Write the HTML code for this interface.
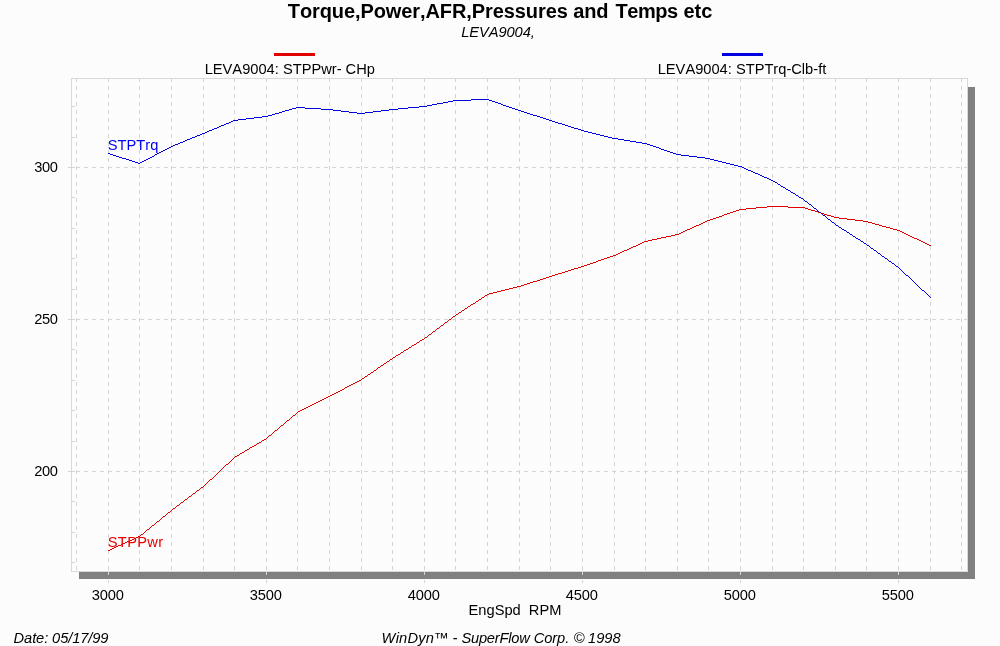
<!DOCTYPE html>
<html><head><meta charset="utf-8"><title>Torque,Power,AFR,Pressures and Temps etc</title>
<style>
html,body{margin:0;padding:0;background:#fcfcfc;}
body{width:1000px;height:646px;overflow:hidden;font-family:"Liberation Sans",sans-serif;}
svg{display:block;font-family:"Liberation Sans",sans-serif;}
text{font-family:"Liberation Sans",sans-serif;font-kerning:none;font-variant-ligatures:none;}
</style></head><body>
<svg width="1000" height="646" viewBox="0 0 1000 646">
<rect x="0" y="0" width="1000" height="646" fill="#fcfcfc"/>

<g shape-rendering="crispEdges">
<rect x="968" y="87" width="7" height="492" fill="#808080"/>
<rect x="79" y="572" width="896" height="7" fill="#808080"/>
<rect x="71.5" y="78.5" width="896" height="493" fill="#fcfcfc" stroke="#d9d9d9" stroke-width="1"/>
<line x1="76.5" y1="78" x2="76.5" y2="571" stroke="#d5d5d5" stroke-width="1" stroke-dasharray="4 4"/>
<line x1="108.5" y1="78" x2="108.5" y2="571" stroke="#d5d5d5" stroke-width="1" stroke-dasharray="4 4"/>
<line x1="139.5" y1="78" x2="139.5" y2="571" stroke="#d5d5d5" stroke-width="1" stroke-dasharray="4 4"/>
<line x1="171.5" y1="78" x2="171.5" y2="571" stroke="#d5d5d5" stroke-width="1" stroke-dasharray="4 4"/>
<line x1="203.5" y1="78" x2="203.5" y2="571" stroke="#d5d5d5" stroke-width="1" stroke-dasharray="4 4"/>
<line x1="234.5" y1="78" x2="234.5" y2="571" stroke="#d5d5d5" stroke-width="1" stroke-dasharray="4 4"/>
<line x1="266.5" y1="78" x2="266.5" y2="571" stroke="#d5d5d5" stroke-width="1" stroke-dasharray="4 4"/>
<line x1="297.5" y1="78" x2="297.5" y2="571" stroke="#d5d5d5" stroke-width="1" stroke-dasharray="4 4"/>
<line x1="329.5" y1="78" x2="329.5" y2="571" stroke="#d5d5d5" stroke-width="1" stroke-dasharray="4 4"/>
<line x1="361.5" y1="78" x2="361.5" y2="571" stroke="#d5d5d5" stroke-width="1" stroke-dasharray="4 4"/>
<line x1="392.5" y1="78" x2="392.5" y2="571" stroke="#d5d5d5" stroke-width="1" stroke-dasharray="4 4"/>
<line x1="424.5" y1="78" x2="424.5" y2="571" stroke="#d5d5d5" stroke-width="1" stroke-dasharray="4 4"/>
<line x1="455.5" y1="78" x2="455.5" y2="571" stroke="#d5d5d5" stroke-width="1" stroke-dasharray="4 4"/>
<line x1="487.5" y1="78" x2="487.5" y2="571" stroke="#d5d5d5" stroke-width="1" stroke-dasharray="4 4"/>
<line x1="519.5" y1="78" x2="519.5" y2="571" stroke="#d5d5d5" stroke-width="1" stroke-dasharray="4 4"/>
<line x1="550.5" y1="78" x2="550.5" y2="571" stroke="#d5d5d5" stroke-width="1" stroke-dasharray="4 4"/>
<line x1="582.5" y1="78" x2="582.5" y2="571" stroke="#d5d5d5" stroke-width="1" stroke-dasharray="4 4"/>
<line x1="614.5" y1="78" x2="614.5" y2="571" stroke="#d5d5d5" stroke-width="1" stroke-dasharray="4 4"/>
<line x1="645.5" y1="78" x2="645.5" y2="571" stroke="#d5d5d5" stroke-width="1" stroke-dasharray="4 4"/>
<line x1="677.5" y1="78" x2="677.5" y2="571" stroke="#d5d5d5" stroke-width="1" stroke-dasharray="4 4"/>
<line x1="708.5" y1="78" x2="708.5" y2="571" stroke="#d5d5d5" stroke-width="1" stroke-dasharray="4 4"/>
<line x1="740.5" y1="78" x2="740.5" y2="571" stroke="#d5d5d5" stroke-width="1" stroke-dasharray="4 4"/>
<line x1="772.5" y1="78" x2="772.5" y2="571" stroke="#d5d5d5" stroke-width="1" stroke-dasharray="4 4"/>
<line x1="803.5" y1="78" x2="803.5" y2="571" stroke="#d5d5d5" stroke-width="1" stroke-dasharray="4 4"/>
<line x1="835.5" y1="78" x2="835.5" y2="571" stroke="#d5d5d5" stroke-width="1" stroke-dasharray="4 4"/>
<line x1="866.5" y1="78" x2="866.5" y2="571" stroke="#d5d5d5" stroke-width="1" stroke-dasharray="4 4"/>
<line x1="898.5" y1="78" x2="898.5" y2="571" stroke="#d5d5d5" stroke-width="1" stroke-dasharray="4 4"/>
<line x1="930.5" y1="78" x2="930.5" y2="571" stroke="#d5d5d5" stroke-width="1" stroke-dasharray="4 4"/>
<line x1="961.5" y1="78" x2="961.5" y2="571" stroke="#d5d5d5" stroke-width="1" stroke-dasharray="4 4"/>
<line x1="108.5" y1="572" x2="108.5" y2="575" stroke="#d5d5d5" stroke-width="1"/>
<line x1="108.5" y1="580" x2="108.5" y2="583" stroke="#d5d5d5" stroke-width="1"/>
<line x1="266.5" y1="572" x2="266.5" y2="575" stroke="#d5d5d5" stroke-width="1"/>
<line x1="266.5" y1="580" x2="266.5" y2="583" stroke="#d5d5d5" stroke-width="1"/>
<line x1="424.5" y1="572" x2="424.5" y2="575" stroke="#d5d5d5" stroke-width="1"/>
<line x1="424.5" y1="580" x2="424.5" y2="583" stroke="#d5d5d5" stroke-width="1"/>
<line x1="582.5" y1="572" x2="582.5" y2="575" stroke="#d5d5d5" stroke-width="1"/>
<line x1="582.5" y1="580" x2="582.5" y2="583" stroke="#d5d5d5" stroke-width="1"/>
<line x1="740.5" y1="572" x2="740.5" y2="575" stroke="#d5d5d5" stroke-width="1"/>
<line x1="740.5" y1="580" x2="740.5" y2="583" stroke="#d5d5d5" stroke-width="1"/>
<line x1="898.5" y1="572" x2="898.5" y2="575" stroke="#d5d5d5" stroke-width="1"/>
<line x1="898.5" y1="580" x2="898.5" y2="583" stroke="#d5d5d5" stroke-width="1"/>
<line x1="68" y1="471.5" x2="75" y2="471.5" stroke="#d5d5d5" stroke-width="1"/>
<line x1="76" y1="471.5" x2="967" y2="471.5" stroke="#d5d5d5" stroke-width="1" stroke-dasharray="4 4"/>
<line x1="68" y1="319.5" x2="75" y2="319.5" stroke="#d5d5d5" stroke-width="1"/>
<line x1="76" y1="319.5" x2="967" y2="319.5" stroke="#d5d5d5" stroke-width="1" stroke-dasharray="4 4"/>
<line x1="68" y1="167.5" x2="75" y2="167.5" stroke="#d5d5d5" stroke-width="1"/>
<line x1="76" y1="167.5" x2="967" y2="167.5" stroke="#d5d5d5" stroke-width="1" stroke-dasharray="4 4"/>
<line x1="72" y1="562.5" x2="75" y2="562.5" stroke="#d5d5d5" stroke-width="1"/>
<line x1="72" y1="532.5" x2="75" y2="532.5" stroke="#d5d5d5" stroke-width="1"/>
<line x1="72" y1="501.5" x2="75" y2="501.5" stroke="#d5d5d5" stroke-width="1"/>
<line x1="72" y1="441.5" x2="75" y2="441.5" stroke="#d5d5d5" stroke-width="1"/>
<line x1="72" y1="410.5" x2="75" y2="410.5" stroke="#d5d5d5" stroke-width="1"/>
<line x1="72" y1="380.5" x2="75" y2="380.5" stroke="#d5d5d5" stroke-width="1"/>
<line x1="72" y1="349.5" x2="75" y2="349.5" stroke="#d5d5d5" stroke-width="1"/>
<line x1="72" y1="289.5" x2="75" y2="289.5" stroke="#d5d5d5" stroke-width="1"/>
<line x1="72" y1="258.5" x2="75" y2="258.5" stroke="#d5d5d5" stroke-width="1"/>
<line x1="72" y1="228.5" x2="75" y2="228.5" stroke="#d5d5d5" stroke-width="1"/>
<line x1="72" y1="197.5" x2="75" y2="197.5" stroke="#d5d5d5" stroke-width="1"/>
<line x1="72" y1="137.5" x2="75" y2="137.5" stroke="#d5d5d5" stroke-width="1"/>
<line x1="72" y1="106.5" x2="75" y2="106.5" stroke="#d5d5d5" stroke-width="1"/>
<rect x="274" y="53" width="41" height="3" fill="#e00000"/>
<rect x="722" y="53" width="41" height="3" fill="#0000e0"/>
</g>
<path d="M767 206h21v1h-21zM756 207h11v1h-11zM788 207h17v1h-17zM746 208h10v1h-10zM805 208h3v1h-3zM739 209h7v1h-7zM808 209h3v1h-3zM736 210h3v1h-3zM811 210h4v1h-4zM733 211h3v1h-3zM815 211h3v1h-3zM730 212h3v1h-3zM818 212h3v1h-3zM727 213h3v1h-3zM821 213h3v1h-3zM724 214h3v1h-3zM824 214h3v1h-3zM722 215h2v1h-2zM827 215h4v1h-4zM719 216h3v1h-3zM831 216h3v1h-3zM716 217h3v1h-3zM834 217h5v1h-5zM713 218h3v1h-3zM839 218h8v1h-8zM710 219h3v1h-3zM847 219h8v1h-8zM707 220h3v1h-3zM855 220h8v1h-8zM705 221h2v1h-2zM863 221h5v1h-5zM703 222h2v1h-2zM868 222h4v1h-4zM701 223h2v1h-2zM872 223h3v1h-3zM699 224h2v1h-2zM875 224h4v1h-4zM696 225h3v1h-3zM879 225h3v1h-3zM694 226h2v1h-2zM882 226h4v1h-4zM692 227h2v1h-2zM886 227h4v1h-4zM690 228h2v1h-2zM890 228h3v1h-3zM687 229h3v1h-3zM893 229h4v1h-4zM685 230h2v1h-2zM897 230h3v1h-3zM683 231h2v1h-2zM900 231h2v1h-2zM681 232h2v1h-2zM902 232h2v1h-2zM679 233h2v1h-2zM904 233h2v1h-2zM675 234h4v1h-4zM906 234h2v1h-2zM671 235h4v1h-4zM908 235h2v1h-2zM666 236h5v1h-5zM910 236h2v1h-2zM661 237h5v1h-5zM912 237h2v1h-2zM657 238h4v1h-4zM914 238h3v1h-3zM652 239h5v1h-5zM917 239h2v1h-2zM648 240h4v1h-4zM919 240h2v1h-2zM644 241h4v1h-4zM921 241h2v1h-2zM642 242h2v1h-2zM923 242h2v1h-2zM640 243h2v1h-2zM925 243h2v1h-2zM638 244h2v1h-2zM927 244h2v1h-2zM636 245h2v1h-2zM929 245h2v1h-2zM633 246h3v1h-3zM631 247h2v1h-2zM629 248h2v1h-2zM627 249h2v1h-2zM624 250h3v1h-3zM622 251h2v1h-2zM620 252h2v1h-2zM618 253h2v1h-2zM616 254h2v1h-2zM613 255h3v1h-3zM610 256h3v1h-3zM607 257h3v1h-3zM604 258h3v1h-3zM601 259h3v1h-3zM598 260h3v1h-3zM596 261h2v1h-2zM593 262h3v1h-3zM590 263h3v1h-3zM587 264h3v1h-3zM584 265h3v1h-3zM581 266h3v1h-3zM578 267h3v1h-3zM574 268h4v1h-4zM571 269h3v1h-3zM568 270h3v1h-3zM565 271h3v1h-3zM562 272h3v1h-3zM558 273h4v1h-4zM555 274h3v1h-3zM552 275h3v1h-3zM549 276h3v1h-3zM546 277h3v1h-3zM543 278h3v1h-3zM540 279h3v1h-3zM537 280h3v1h-3zM533 281h4v1h-4zM530 282h3v1h-3zM527 283h3v1h-3zM524 284h3v1h-3zM521 285h3v1h-3zM517 286h4v1h-4zM513 287h4v1h-4zM509 288h4v1h-4zM505 289h4v1h-4zM501 290h4v1h-4zM497 291h4v1h-4zM493 292h4v1h-4zM489 293h4v1h-4zM487 294h2v1h-2zM485 295h2v1h-2zM484 296h1v1h-1zM482 297h2v1h-2zM481 298h1v1h-1zM479 299h2v1h-2zM478 300h1v1h-1zM476 301h2v1h-2zM475 302h1v1h-1zM473 303h2v1h-2zM471 304h2v1h-2zM470 305h1v1h-1zM468 306h2v1h-2zM467 307h1v1h-1zM465 308h2v1h-2zM464 309h1v1h-1zM462 310h2v1h-2zM461 311h1v1h-1zM459 312h2v1h-2zM458 313h1v1h-1zM456 314h2v1h-2zM455 315h1v1h-1zM453 316h2v1h-2zM452 317h1v1h-1zM451 318h1v1h-1zM449 319h2v1h-2zM448 320h1v1h-1zM447 321h1v1h-1zM445 322h2v1h-2zM444 323h1v1h-1zM443 324h1v1h-1zM441 325h2v1h-2zM440 326h1v1h-1zM439 327h1v1h-1zM437 328h2v1h-2zM436 329h1v1h-1zM435 330h1v1h-1zM433 331h2v1h-2zM432 332h1v1h-1zM431 333h1v1h-1zM429 334h2v1h-2zM428 335h1v1h-1zM427 336h1v1h-1zM425 337h2v1h-2zM424 338h1v1h-1zM422 339h2v1h-2zM420 340h2v1h-2zM419 341h1v1h-1zM417 342h2v1h-2zM416 343h1v1h-1zM414 344h2v1h-2zM412 345h2v1h-2zM411 346h1v1h-1zM409 347h2v1h-2zM408 348h1v1h-1zM406 349h2v1h-2zM404 350h2v1h-2zM403 351h1v1h-1zM401 352h2v1h-2zM400 353h1v1h-1zM398 354h2v1h-2zM396 355h2v1h-2zM395 356h1v1h-1zM393 357h2v1h-2zM392 358h1v1h-1zM390 359h2v1h-2zM389 360h1v1h-1zM387 361h2v1h-2zM386 362h1v1h-1zM384 363h2v1h-2zM383 364h1v1h-1zM381 365h2v1h-2zM380 366h1v1h-1zM378 367h2v1h-2zM377 368h1v1h-1zM376 369h1v1h-1zM374 370h2v1h-2zM373 371h1v1h-1zM371 372h2v1h-2zM370 373h1v1h-1zM368 374h2v1h-2zM367 375h1v1h-1zM365 376h2v1h-2zM364 377h1v1h-1zM362 378h2v1h-2zM361 379h1v1h-1zM359 380h2v1h-2zM357 381h2v1h-2zM355 382h2v1h-2zM353 383h2v1h-2zM351 384h2v1h-2zM349 385h2v1h-2zM347 386h2v1h-2zM345 387h2v1h-2zM344 388h1v1h-1zM342 389h2v1h-2zM340 390h2v1h-2zM338 391h2v1h-2zM336 392h2v1h-2zM334 393h2v1h-2zM332 394h2v1h-2zM330 395h2v1h-2zM328 396h2v1h-2zM326 397h2v1h-2zM324 398h2v1h-2zM322 399h2v1h-2zM320 400h2v1h-2zM318 401h2v1h-2zM316 402h2v1h-2zM314 403h2v1h-2zM312 404h2v1h-2zM310 405h2v1h-2zM308 406h2v1h-2zM306 407h2v1h-2zM304 408h2v1h-2zM302 409h2v1h-2zM300 410h2v1h-2zM298 411h2v1h-2zM297 412h1v1h-1zM296 413h1v1h-1zM295 414h1v1h-1zM293 415h2v1h-2zM292 416h1v1h-1zM291 417h1v1h-1zM290 418h1v1h-1zM289 419h1v1h-1zM287 420h2v1h-2zM286 421h1v1h-1zM285 422h1v1h-1zM284 423h1v1h-1zM283 424h1v1h-1zM281 425h2v1h-2zM280 426h1v1h-1zM279 427h1v1h-1zM278 428h1v1h-1zM277 429h1v1h-1zM275 430h2v1h-2zM274 431h1v1h-1zM273 432h1v1h-1zM272 433h1v1h-1zM271 434h1v1h-1zM269 435h2v1h-2zM268 436h1v1h-1zM267 437h1v1h-1zM266 438h1v1h-1zM264 439h2v1h-2zM262 440h2v1h-2zM261 441h1v1h-1zM259 442h2v1h-2zM257 443h2v1h-2zM256 444h1v1h-1zM254 445h2v1h-2zM252 446h2v1h-2zM250 447h2v1h-2zM249 448h1v1h-1zM247 449h2v1h-2zM245 450h2v1h-2zM244 451h1v1h-1zM242 452h2v1h-2zM240 453h2v1h-2zM239 454h1v1h-1zM237 455h2v1h-2zM235 456h2v1h-2zM234 457h1v1h-1zM233 458h1v1h-1zM232 459h1v1h-1zM231 460h1v1h-1zM230 461h1v1h-1zM229 462h1v1h-1zM228 463h1v1h-1zM226 464h2v1h-2zM225 465h1v1h-1zM224 466h1v1h-1zM223 467h1v1h-1zM222 468h1v1h-1zM221 469h1v1h-1zM220 470h1v1h-1zM219 471h1v1h-1zM218 472h1v1h-1zM217 473h1v1h-1zM216 474h1v1h-1zM215 475h1v1h-1zM214 476h1v1h-1zM213 477h1v1h-1zM212 478h1v1h-1zM210 479h2v1h-2zM209 480h1v1h-1zM208 481h1v1h-1zM207 482h1v1h-1zM206 483h1v1h-1zM205 484h1v1h-1zM204 485h1v1h-1zM203 486h1v1h-1zM201 487h2v1h-2zM200 488h1v1h-1zM199 489h1v1h-1zM197 490h2v1h-2zM196 491h1v1h-1zM195 492h1v1h-1zM193 493h2v1h-2zM192 494h1v1h-1zM191 495h1v1h-1zM189 496h2v1h-2zM188 497h1v1h-1zM187 498h1v1h-1zM185 499h2v1h-2zM184 500h1v1h-1zM183 501h1v1h-1zM181 502h2v1h-2zM180 503h1v1h-1zM179 504h1v1h-1zM177 505h2v1h-2zM176 506h1v1h-1zM175 507h1v1h-1zM173 508h2v1h-2zM172 509h1v1h-1zM171 510h1v1h-1zM170 511h1v1h-1zM168 512h2v1h-2zM167 513h1v1h-1zM166 514h1v1h-1zM165 515h1v1h-1zM163 516h2v1h-2zM162 517h1v1h-1zM161 518h1v1h-1zM160 519h1v1h-1zM159 520h1v1h-1zM157 521h2v1h-2zM156 522h1v1h-1zM155 523h1v1h-1zM154 524h1v1h-1zM152 525h2v1h-2zM151 526h1v1h-1zM150 527h1v1h-1zM149 528h1v1h-1zM147 529h2v1h-2zM146 530h1v1h-1zM145 531h1v1h-1zM144 532h1v1h-1zM143 533h1v1h-1zM141 534h2v1h-2zM140 535h1v1h-1zM138 536h2v1h-2zM136 537h2v1h-2zM134 538h2v1h-2zM132 539h2v1h-2zM130 540h2v1h-2zM127 541h3v1h-3zM125 542h2v1h-2zM123 543h2v1h-2zM121 544h2v1h-2zM118 545h3v1h-3zM116 546h2v1h-2zM114 547h2v1h-2zM112 548h2v1h-2zM110 549h2v1h-2zM108 550h2v1h-2z" fill="#e00000" shape-rendering="crispEdges"/>
<path d="M471 99h18v1h-18zM453 100h18v1h-18zM489 100h3v1h-3zM448 101h5v1h-5zM492 101h3v1h-3zM443 102h5v1h-5zM495 102h3v1h-3zM437 103h6v1h-6zM498 103h3v1h-3zM432 104h5v1h-5zM501 104h2v1h-2zM427 105h5v1h-5zM503 105h3v1h-3zM419 106h8v1h-8zM506 106h3v1h-3zM296 107h9v1h-9zM408 107h11v1h-11zM509 107h3v1h-3zM292 108h4v1h-4zM305 108h16v1h-16zM398 108h10v1h-10zM512 108h3v1h-3zM289 109h3v1h-3zM321 109h12v1h-12zM389 109h9v1h-9zM515 109h3v1h-3zM285 110h4v1h-4zM333 110h8v1h-8zM381 110h8v1h-8zM518 110h3v1h-3zM282 111h3v1h-3zM341 111h8v1h-8zM373 111h8v1h-8zM521 111h3v1h-3zM279 112h3v1h-3zM349 112h8v1h-8zM365 112h8v1h-8zM524 112h3v1h-3zM275 113h4v1h-4zM357 113h8v1h-8zM527 113h3v1h-3zM272 114h3v1h-3zM530 114h3v1h-3zM268 115h4v1h-4zM533 115h4v1h-4zM262 116h6v1h-6zM537 116h3v1h-3zM254 117h8v1h-8zM540 117h3v1h-3zM246 118h8v1h-8zM543 118h3v1h-3zM238 119h8v1h-8zM546 119h3v1h-3zM233 120h5v1h-5zM549 120h3v1h-3zM231 121h2v1h-2zM552 121h3v1h-3zM229 122h2v1h-2zM555 122h3v1h-3zM226 123h3v1h-3zM558 123h4v1h-4zM224 124h2v1h-2zM562 124h3v1h-3zM221 125h3v1h-3zM565 125h3v1h-3zM219 126h2v1h-2zM568 126h3v1h-3zM217 127h2v1h-2zM571 127h3v1h-3zM214 128h3v1h-3zM574 128h4v1h-4zM212 129h2v1h-2zM578 129h3v1h-3zM209 130h3v1h-3zM581 130h3v1h-3zM207 131h2v1h-2zM584 131h4v1h-4zM205 132h2v1h-2zM588 132h4v1h-4zM202 133h3v1h-3zM592 133h4v1h-4zM200 134h2v1h-2zM596 134h4v1h-4zM197 135h3v1h-3zM600 135h4v1h-4zM195 136h2v1h-2zM604 136h4v1h-4zM192 137h3v1h-3zM608 137h4v1h-4zM190 138h2v1h-2zM612 138h6v1h-6zM187 139h3v1h-3zM618 139h6v1h-6zM185 140h2v1h-2zM624 140h6v1h-6zM183 141h2v1h-2zM630 141h6v1h-6zM180 142h3v1h-3zM636 142h6v1h-6zM178 143h2v1h-2zM642 143h5v1h-5zM175 144h3v1h-3zM647 144h3v1h-3zM173 145h2v1h-2zM650 145h3v1h-3zM171 146h2v1h-2zM653 146h3v1h-3zM169 147h2v1h-2zM656 147h3v1h-3zM167 148h2v1h-2zM659 148h2v1h-2zM165 149h2v1h-2zM661 149h3v1h-3zM163 150h2v1h-2zM664 150h3v1h-3zM161 151h2v1h-2zM667 151h3v1h-3zM159 152h2v1h-2zM670 152h3v1h-3zM108 153h2v1h-2zM157 153h2v1h-2zM673 153h3v1h-3zM110 154h3v1h-3zM155 154h2v1h-2zM676 154h5v1h-5zM113 155h3v1h-3zM154 155h1v1h-1zM681 155h8v1h-8zM116 156h3v1h-3zM152 156h2v1h-2zM689 156h8v1h-8zM119 157h3v1h-3zM150 157h2v1h-2zM697 157h8v1h-8zM122 158h4v1h-4zM148 158h2v1h-2zM705 158h5v1h-5zM126 159h3v1h-3zM146 159h2v1h-2zM710 159h4v1h-4zM129 160h3v1h-3zM144 160h2v1h-2zM714 160h4v1h-4zM132 161h3v1h-3zM142 161h2v1h-2zM718 161h4v1h-4zM135 162h3v1h-3zM140 162h2v1h-2zM722 162h4v1h-4zM138 163h2v1h-2zM726 163h4v1h-4zM730 164h4v1h-4zM734 165h4v1h-4zM738 166h4v1h-4zM742 167h2v1h-2zM744 168h2v1h-2zM746 169h2v1h-2zM748 170h3v1h-3zM751 171h2v1h-2zM753 172h2v1h-2zM755 173h3v1h-3zM758 174h2v1h-2zM760 175h2v1h-2zM762 176h2v1h-2zM764 177h3v1h-3zM767 178h2v1h-2zM769 179h2v1h-2zM771 180h2v1h-2zM773 181h2v1h-2zM775 182h2v1h-2zM777 183h1v1h-1zM778 184h2v1h-2zM780 185h1v1h-1zM781 186h2v1h-2zM783 187h2v1h-2zM785 188h1v1h-1zM786 189h2v1h-2zM788 190h2v1h-2zM790 191h1v1h-1zM791 192h2v1h-2zM793 193h2v1h-2zM795 194h1v1h-1zM796 195h2v1h-2zM798 196h1v1h-1zM799 197h2v1h-2zM801 198h2v1h-2zM803 199h1v1h-1zM804 200h1v1h-1zM805 201h2v1h-2zM807 202h1v1h-1zM808 203h1v1h-1zM809 204h2v1h-2zM811 205h1v1h-1zM812 206h1v1h-1zM813 207h1v1h-1zM814 208h2v1h-2zM816 209h1v1h-1zM817 210h1v1h-1zM818 211h1v1h-1zM819 212h2v1h-2zM821 213h1v1h-1zM822 214h1v1h-1zM823 215h2v1h-2zM825 216h1v1h-1zM826 217h1v1h-1zM827 218h1v1h-1zM828 219h2v1h-2zM830 220h1v1h-1zM831 221h1v1h-1zM832 222h2v1h-2zM834 223h1v1h-1zM835 224h1v1h-1zM836 225h2v1h-2zM838 226h1v1h-1zM839 227h2v1h-2zM841 228h1v1h-1zM842 229h2v1h-2zM844 230h2v1h-2zM846 231h1v1h-1zM847 232h2v1h-2zM849 233h1v1h-1zM850 234h2v1h-2zM852 235h1v1h-1zM853 236h2v1h-2zM855 237h1v1h-1zM856 238h2v1h-2zM858 239h2v1h-2zM860 240h1v1h-1zM861 241h2v1h-2zM863 242h1v1h-1zM864 243h2v1h-2zM866 244h1v1h-1zM867 245h2v1h-2zM869 246h1v1h-1zM870 247h1v1h-1zM871 248h2v1h-2zM873 249h1v1h-1zM874 250h2v1h-2zM876 251h1v1h-1zM877 252h1v1h-1zM878 253h2v1h-2zM880 254h1v1h-1zM881 255h1v1h-1zM882 256h2v1h-2zM884 257h1v1h-1zM885 258h2v1h-2zM887 259h1v1h-1zM888 260h1v1h-1zM889 261h2v1h-2zM891 262h1v1h-1zM892 263h2v1h-2zM894 264h1v1h-1zM895 265h1v1h-1zM896 266h2v1h-2zM898 267h1v1h-1zM899 268h1v1h-1zM900 269h1v1h-1zM901 270h1v1h-1zM902 271h1v1h-1zM903 272h1v1h-1zM904 273h1v1h-1zM905 274h1v1h-1zM906 275h2v1h-2zM908 276h1v1h-1zM909 277h1v1h-1zM910 278h1v1h-1zM911 279h1v1h-1zM912 280h1v1h-1zM913 281h1v1h-1zM914 282h1v1h-1zM915 283h1v1h-1zM916 284h1v1h-1zM917 285h1v1h-1zM918 286h1v1h-1zM919 287h1v1h-1zM920 288h1v1h-1zM921 289h1v1h-1zM922 290h2v1h-2zM924 291h1v1h-1zM925 292h1v1h-1zM926 293h1v1h-1zM927 294h1v1h-1zM928 295h1v1h-1zM929 296h1v1h-1zM930 297h1v1h-1z" fill="#0000e0" shape-rendering="crispEdges"/>
<defs><filter id="nf" x="0" y="0" width="1000" height="646" filterUnits="userSpaceOnUse"><feOffset dx="0" dy="0"/></filter></defs><g filter="url(#nf)">
<text id="title" x="500" y="18" letter-spacing="-0.09" font-size="20" font-weight="bold" text-anchor="middle" fill="#000">Torque,Power,AFR,Pressures and <tspan dx="1.6" letter-spacing="-0.45">Temps</tspan><tspan dx="0.3"> etc</tspan></text>
<text id="sub" x="498" y="37" letter-spacing="-0.08" font-size="14.67" font-style="italic" text-anchor="middle" fill="#000">LEVA9004,</text>
<text id="leg1" x="289.8" y="74" font-size="14.67" text-anchor="middle" fill="#000">LEVA9004: STPPwr- CHp</text>
<text id="leg2" x="742" y="74" font-size="14.67" text-anchor="middle" fill="#000">LEVA9004: STPTrq-Clb-ft</text>
<text id="trq" x="107.8" y="149.6" font-size="14.67" fill="#0000ee">STPTrq</text>
<text id="pwr" x="107.8" y="547" letter-spacing="0.3" font-size="14.67" fill="#e80000">STPPwr</text>
<text class="yl" x="57.6" y="476" font-size="14.67" letter-spacing="-0.35" text-anchor="end" fill="#000">200</text>
<text class="yl" x="57.6" y="324" font-size="14.67" letter-spacing="-0.35" text-anchor="end" fill="#000">250</text>
<text class="yl" x="57.6" y="172" font-size="14.67" letter-spacing="-0.35" text-anchor="end" fill="#000">300</text>
<text class="xl" x="107.8" y="600" font-size="14.67" letter-spacing="-0.1" text-anchor="middle" fill="#000">3000</text>
<text class="xl" x="265.8" y="600" font-size="14.67" letter-spacing="-0.1" text-anchor="middle" fill="#000">3500</text>
<text class="xl" x="423.8" y="600" font-size="14.67" letter-spacing="-0.1" text-anchor="middle" fill="#000">4000</text>
<text class="xl" x="581.8" y="600" font-size="14.67" letter-spacing="-0.1" text-anchor="middle" fill="#000">4500</text>
<text class="xl" x="739.8" y="600" font-size="14.67" letter-spacing="-0.1" text-anchor="middle" fill="#000">5000</text>
<text class="xl" x="897.8" y="600" font-size="14.67" letter-spacing="-0.1" text-anchor="middle" fill="#000">5500</text>
<text id="xt" x="515" y="615" font-size="14.67" text-anchor="middle" fill="#000">EngSpd&#160;&#160;RPM</text>
<text id="date" x="13.6" letter-spacing="-0.1" y="642.5" font-size="14.67" font-style="italic" fill="#000">Date: 05/17/99</text>
<text id="foot" y="643" font-size="14.67" font-style="italic" fill="#000"><tspan x="381.6" letter-spacing="0.2">WinDyn™</tspan><tspan x="452.6">-</tspan><tspan x="461.4" letter-spacing="-0.2">SuperFlow</tspan><tspan x="533.7" letter-spacing="-0.08">Corp.</tspan><tspan x="573.7">©</tspan><tspan x="588.06">1998</tspan></text>
</g>
</svg></body></html>
